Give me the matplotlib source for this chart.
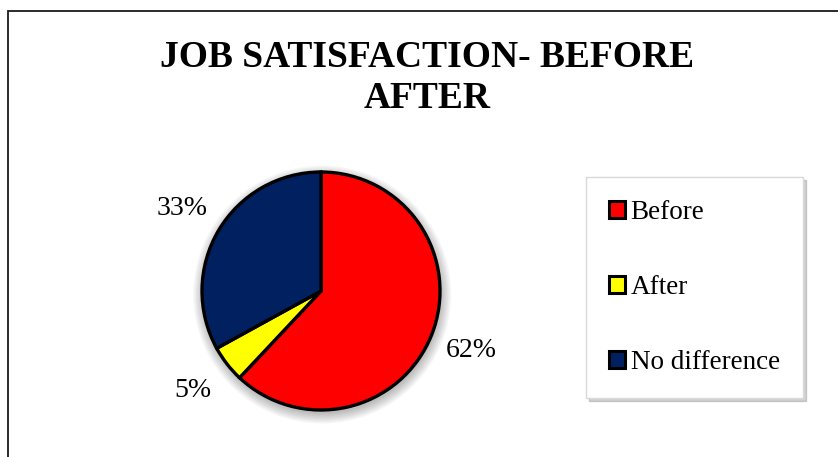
import matplotlib
matplotlib.use("Agg")
import matplotlib.pyplot as plt
from matplotlib.patches import Rectangle, Circle

# survey answers (percent)
categories = ["Before", "After", "No difference"]
shares = [62, 5, 33]
colors = ["#FF0000", "#FFFF00", "#002060"]
title = "JOB SATISFACTION- BEFORE\nAFTER"

W, H = 838, 457
plt.rcParams["font.family"] = ["Liberation Serif", "DejaVu Serif"]

fig = plt.figure(figsize=(W / 100, H / 100), dpi=100)

# outer chart frame (only left and top edges are in view)
fig.patches.append(Rectangle((8 / W, -0.1), 1.2, (H - 11) / H + 0.1,
                             transform=fig.transFigure, fill=False,
                             edgecolor="#1a1a1a", linewidth=1.3))

fig.text(427 / W, 1 - 78 / H, title, ha="center", va="center",
         fontsize=27, fontweight="bold", linespacing=1.25)

# pie axes: centre (321, 291) px, radius 119 px
cx, cy, R = 321, 291, 119
span = 1.6
ax = fig.add_axes([(cx - span * R) / W, (H - cy - span * R) / H,
                   2 * span * R / W, 2 * span * R / H])
ax.axis("off")

# soft drop shadow under the pie
for i in range(8):
    ax.add_patch(Circle((0.01, -0.03), 1.0 + 0.012 * i, color="black",
                        alpha=0.035, linewidth=0, zorder=0))

wedges, _, autotexts = ax.pie(
    shares, colors=colors, startangle=90, counterclock=False,
    autopct=lambda p: f"{p:.0f}%", pctdistance=1.36, radius=1.0,
    wedgeprops=dict(edgecolor="black", linewidth=2.4),
    textprops=dict(fontsize=20, color="black"))
for t in autotexts:
    t.set_clip_on(False)
ax.set_xlim(-span, span)
ax.set_ylim(-span, span)
ax.set_aspect("equal")

leg = fig.legend(wedges, categories, loc="upper left",
                 bbox_to_anchor=(586 / W, 1 - 177 / H),
                 fontsize=19.5, frameon=True, fancybox=False,
                 edgecolor="#d9d9d9", labelspacing=1.85,
                 handlelength=0.6, handleheight=0.6, handletextpad=0.2,
                 borderpad=0.85, borderaxespad=0,
                 shadow={"ox": 2, "oy": -2, "color": "gray", "alpha": 0.35})
for h in leg.legend_handles:
    h.set_linewidth(2.2)
    h.set_edgecolor("black")

fig.savefig("out.png", dpi=100)
